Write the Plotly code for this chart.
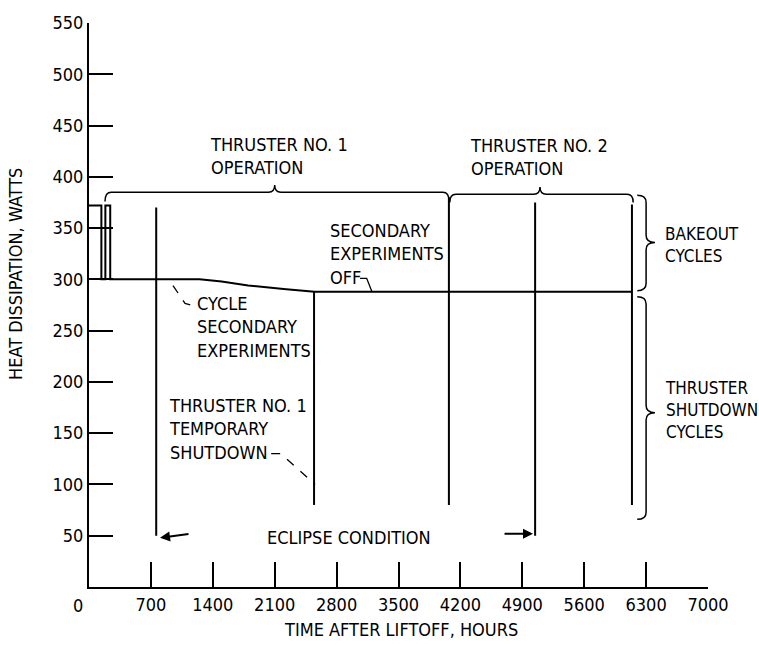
import plotly.graph_objects as go

FONT = "Liberation Sans Narrow, DejaVu Sans Condensed, Arial Narrow, sans-serif"

# ---- data ----
power_hours = [0, 140, 140, 185, 185, 240, 240, 1250, 1500, 1800, 2200, 2550, 6140]
power_watts = [372, 372, 300, 300, 372, 372, 300, 300, 298, 294, 290.5, 288, 288]

shutdown_hours = [760, 2545, 4070, 5045, 6140]
shutdown_bottom = [50, 80, 80, 50, 80]
shutdown_top = [370, 288, 380, 375, 373]

x_ticks = [700, 1400, 2100, 2800, 3500, 4200, 4900, 5600, 6300, 7000]
y_ticks = [50, 100, 150, 200, 250, 300, 350, 400, 450, 500, 550]

# braces: (start, end, middle, level, tip, curl)
h_braces = [(181, 4072, 2100, 385, 392, 376), (4080, 6154, 5100, 383, 390, 375)]
# vertical braces: (top, bottom, middle, body_x, tip_x, end_x)
v_braces = [(382, 289, 336, 6300, 6400, 6200), (283, 66, 170, 6300, 6400, 6200)]

fig = go.Figure()

fig.add_trace(go.Scatter(x=power_hours, y=power_watts, mode="lines",
                         line=dict(color="black", width=2), hoverinfo="skip", showlegend=False))

for t, b, tp in zip(shutdown_hours, shutdown_bottom, shutdown_top):
    fig.add_trace(go.Scatter(x=[t, t], y=[b, tp], mode="lines",
                             line=dict(color="black", width=2), hoverinfo="skip", showlegend=False))

shapes = []
rx = 70
dy = 7
for x0, x1, xm, lv, tip, curl in h_braces:
    p = (f"M {x0},{curl} Q {x0},{lv} {x0+rx},{lv} L {xm-rx},{lv} Q {xm},{lv} {xm},{tip} "
         f"Q {xm},{lv} {xm+rx},{lv} L {x1-rx},{lv} Q {x1},{lv} {x1},{curl}")
    shapes.append(dict(type="path", path=p, xref="x", yref="y",
                       line=dict(color="black", width=1.5)))
for y0, y1, ym, bx, tx, ex in v_braces:
    p = (f"M {ex},{y0} Q {bx},{y0} {bx},{y0-dy} L {bx},{ym+dy} Q {bx},{ym} {tx},{ym} "
         f"Q {bx},{ym} {bx},{ym-dy} L {bx},{y1+dy} Q {bx},{y1} {ex},{y1}")
    shapes.append(dict(type="path", path=p, xref="x", yref="y",
                       line=dict(color="black", width=1.5)))

# leader lines
shapes.append(dict(type="path", path="M 950,294 L 1086,276.5 L 1176,274.5", xref="x", yref="y",
                   line=dict(color="black", width=1.3, dash="dash")))
shapes.append(dict(type="path", path="M 2060,130 L 2170,130 L 2556,100", xref="x", yref="y",
                   line=dict(color="black", width=1.3, dash="dash")))
shapes.append(dict(type="path", path="M 3065,301 L 3140,301 L 3200,288", xref="x", yref="y",
                   line=dict(color="black", width=1.3)))

ann = []
def txt(x, y, s, xanchor="left", align="left", size=18):
    ann.append(dict(x=x, y=y, xref="x", yref="y", text=s, showarrow=False,
                    xanchor=xanchor, yanchor="middle", align=align,
                    font=dict(family=FONT, size=size, color="black")))

txt(1346, 420, "THRUSTER NO. 1<br>OPERATION")
txt(4286, 419.5, "THRUSTER NO. 2<br>OPERATION")
txt(2703, 324.5, "SECONDARY<br>EXPERIMENTS<br>OFF")
txt(1199, 254, "CYCLE<br>SECONDARY<br>EXPERIMENTS")
txt(882, 154, "THRUSTER NO. 1<br>TEMPORARY<br>SHUTDOWN")
txt(2940, 48, "ECLIPSE CONDITION", xanchor="center", align="center")
txt(6490, 334, "BAKEOUT<br>CYCLES", size=17)
txt(6490, 173, "THRUSTER<br>SHUTDOWN<br>CYCLES", size=17)

# eclipse arrows
for tail, head in [((1142, 52), (803, 48)), ((4682, 52), (5021, 52))]:
    ann.append(dict(x=head[0], y=head[1], ax=tail[0], ay=tail[1], xref="x", yref="y",
                    axref="x", ayref="y", showarrow=True, arrowhead=2, arrowsize=1,
                    arrowwidth=2, arrowcolor="black", text=""))

# "0" origin label and axis titles
ann.append(dict(x=0, y=0, xref="x", yref="paper", text="0", showarrow=False,
                xanchor="center", yanchor="top", xshift=-11, yshift=-6,
                font=dict(family=FONT, size=18, color="black")))
ann.append(dict(x=16, y=270, xref="paper", yref="paper", text="HEAT DISSIPATION, WATTS",
                showarrow=False, textangle=-90, xanchor="center", yanchor="middle",
                font=dict(family=FONT, size=18, color="black")))
ann.append(dict(x=401, y=630, xref="paper", yref="paper", text="TIME AFTER LIFTOFF, HOURS",
                showarrow=False, xanchor="center", yanchor="middle",
                font=dict(family=FONT, size=18, color="black")))

# convert pixel-based paper annotations (titles) to paper fractions
L, R, T, B = 89, 51, 16, 58
W, H = 759, 645
pw, ph = W - L - R, H - T - B
for a in ann[-2:]:
    a["x"] = (a["x"] - L) / pw
    a["y"] = 1 - (a["y"] - T) / ph

fig.update_layout(
    width=W, height=H,
    margin=dict(l=L, r=R, t=T, b=B, pad=0),
    paper_bgcolor="white", plot_bgcolor="white",
    shapes=shapes, annotations=ann, showlegend=False,
    font=dict(family=FONT, size=18, color="black"),
)
fig.update_xaxes(range=[0, 7000], tickvals=x_ticks, ticks="inside", ticklen=25, tickwidth=2,
                 tickcolor="black", showline=True, linecolor="black", linewidth=2,
                 showgrid=False, zeroline=False, tickfont=dict(family=FONT, size=18, color="black"))
fig.update_yaxes(range=[0, 550], tickvals=y_ticks, ticks="inside", ticklen=24, tickwidth=2,
                 tickcolor="black", showline=True, linecolor="black", linewidth=2,
                 showgrid=False, zeroline=False, tickfont=dict(family=FONT, size=18, color="black"))

fig.write_html("out.html")
